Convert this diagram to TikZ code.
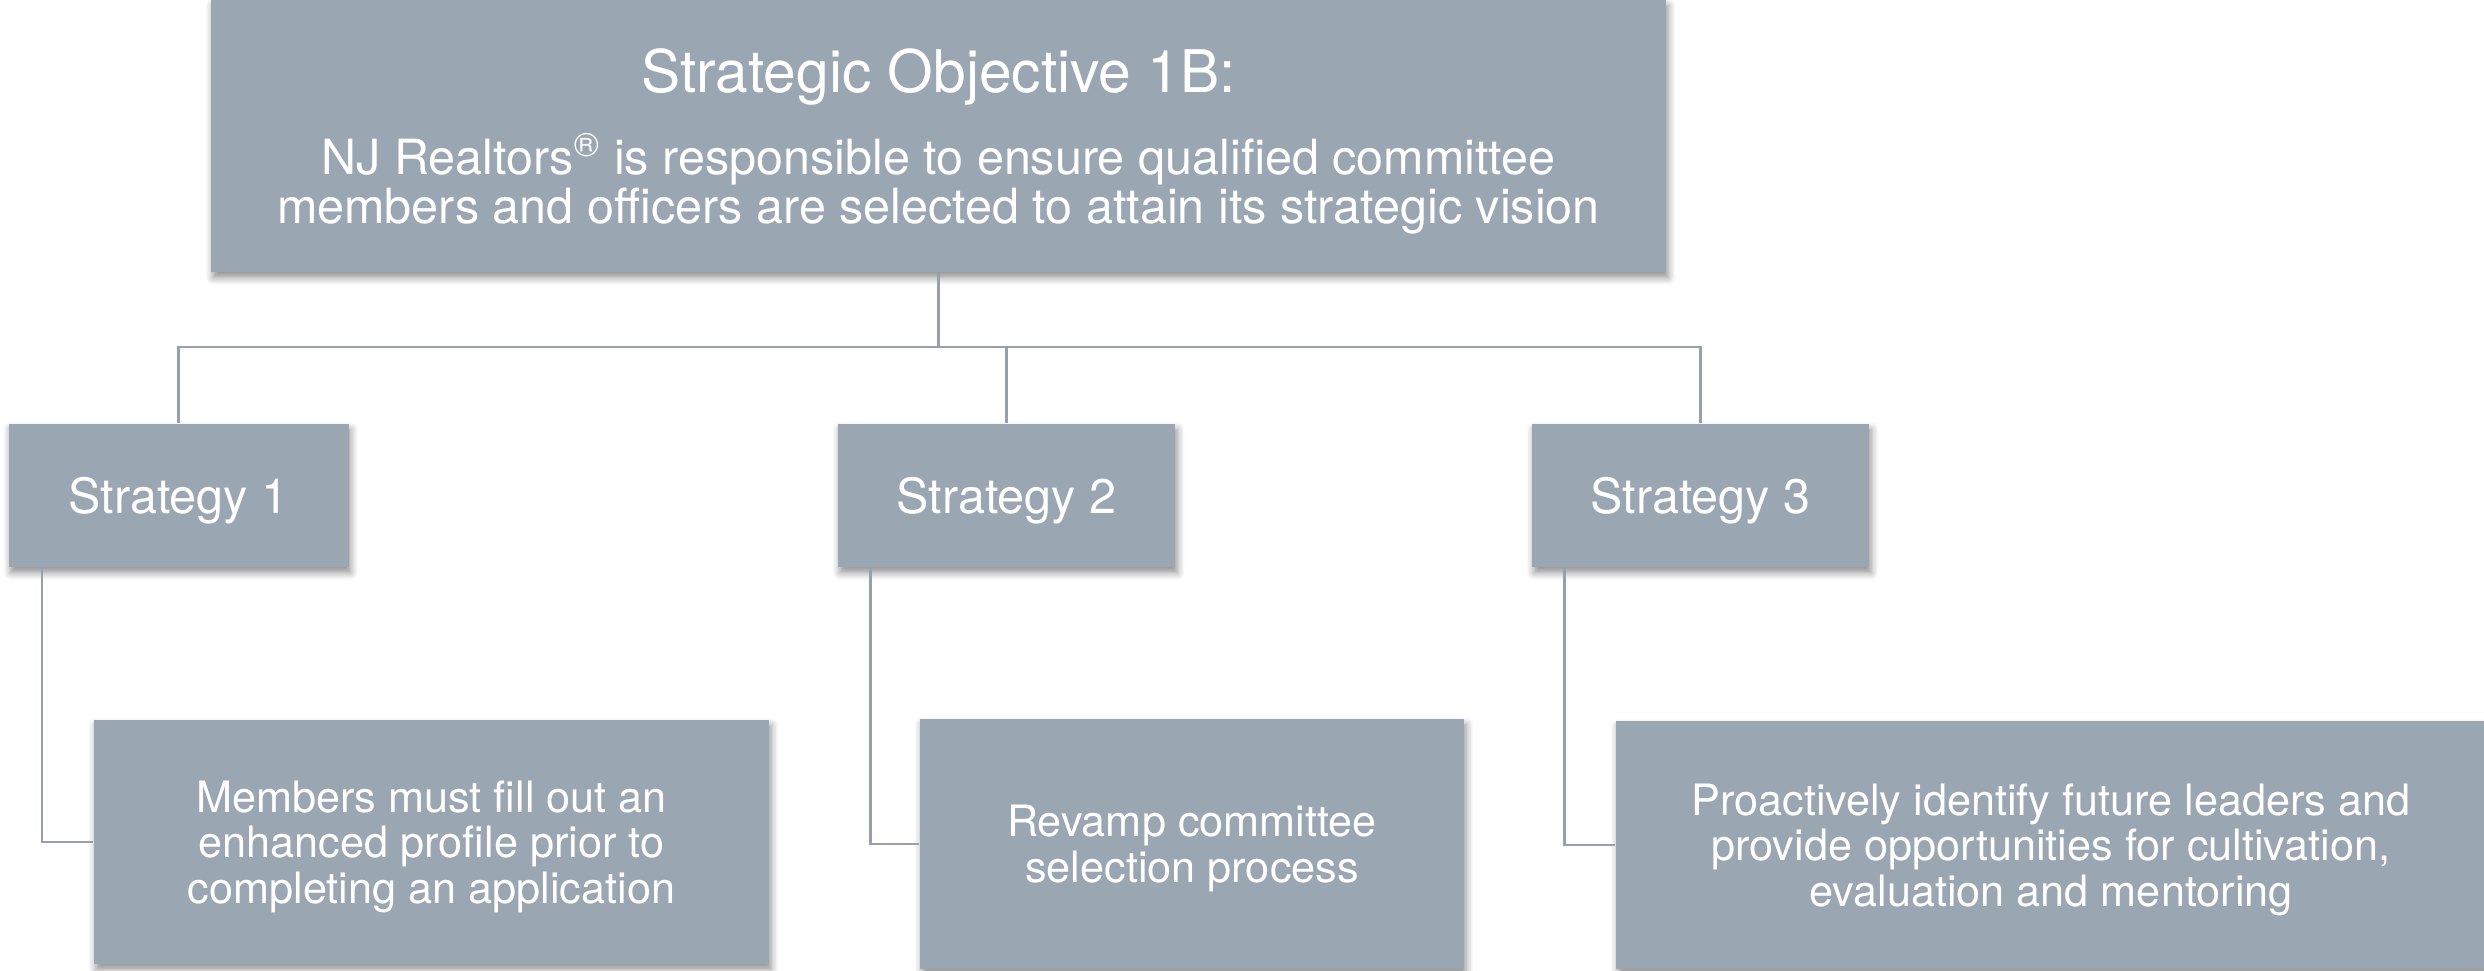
\documentclass[tikz,border=0pt]{standalone}
\usepackage{fontspec}
\setmainfont{TeX Gyre Heros}
\usepackage{xcolor}
\usepackage{tikz}
\usetikzlibrary{shadows.blur}

\definecolor{slate}{RGB}{155,166,179}
\definecolor{wire}{RGB}{150,161,175}

\begin{document}
\begin{tikzpicture}[
	box/.style={fill=slate, text=white, inner sep=0pt, align=center, text depth=0pt,
		font=\fontsize{13.8}{14}\selectfont,
		blur shadow={shadow xshift=0.6pt, shadow yshift=-1.6pt, shadow blur steps=6, shadow opacity=45}},
	small/.style={font=\fontsize{12.3}{13}\selectfont},
	link/.style={draw=wire, line width=0.7pt}
]
	\useasboundingbox (0,0) rectangle (24.84,-9.71);

	% objective on top
	\node[box, minimum width=14.55cm, minimum height=2.72cm] (obj) at (9.385,-1.36)
		{{\fontsize{16.7}{14}\selectfont Strategic Objective 1B:}\\[7pt]
		NJ Realtors\textsuperscript{®} is responsible to ensure qualified committee\\
		members and officers are selected to attain its strategic vision};

	% strategies
	\node[box, minimum width=3.4cm, minimum height=1.43cm] (s1) at (1.785,-4.955) {Strategy 1};
	\node[box, minimum width=3.37cm, minimum height=1.43cm] (s2) at (10.065,-4.955) {Strategy 2};
	\node[box, minimum width=3.37cm, minimum height=1.43cm] (s3) at (17.005,-4.955) {Strategy 3};

	% actions
	\node[box, small, minimum width=6.75cm, minimum height=2.44cm] (a1) at (4.315,-8.42)
		{Members must fill out an\\ enhanced profile prior to\\ completing an application};
	\node[box, small, minimum width=5.44cm, minimum height=2.5cm] (a2) at (11.92,-8.44)
		{Revamp committee\\ selection process};
	\node[box, small, minimum width=8.7cm, minimum height=2.48cm] (a3) at (20.51,-8.45)
		{Proactively identify future leaders and\\ provide opportunities for cultivation,\\ evaluation and mentoring};

	\coordinate (bus) at (0,-3.47);

	\draw[link] (obj.south) -- (obj.south |- bus);
	\draw[link] (s1.north) |- (s3.north |- bus) -- (s3.north);
	\draw[link] (s2.north) -- (s2.north |- bus);

	\draw[link] ([xshift=3.4mm]s1.south west) |- (a1.west);
	\draw[link] ([xshift=3.3mm]s2.south west) |- (a2.west);
	\draw[link] ([xshift=3.3mm]s3.south west) |- (a3.west);

\end{tikzpicture}
\end{document}
